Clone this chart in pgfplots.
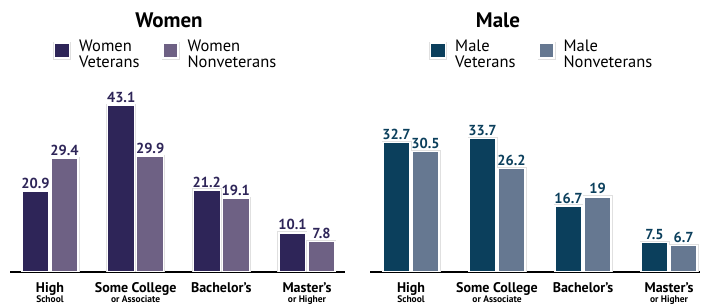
\documentclass[border=0pt]{standalone}
\usepackage{pgfplots}
\pgfplotsset{compat=1.18}
\usepackage{fontspec}
\setmainfont{PT Sans}
\definecolor{wvet}{HTML}{2E2558}
\definecolor{wnon}{HTML}{6E6184}
\definecolor{mvet}{HTML}{0B3F5C}
\definecolor{mnon}{HTML}{667891}
\newcommand{\legtxt}[2]{\fontsize{16.5}{14.5}\selectfont\begin{tabular}{@{}l@{}}#1\\#2\end{tabular}}
\pgfplotsset{
  mybar/.style={
    ybar, bar width=27pt, scale only axis, width=335pt, height=172pt,
    ymin=0, axis y line=none, axis x line*=bottom,
    x axis line style={line width=1.6pt, -},
    xtick=data, major tick length=0pt,
    xticklabels={{\fontsize{14}{14}\selectfont\bfseries High\\[-2pt]\fontsize{9.5}{9.5}\selectfont\bfseries School},
                 {\fontsize{14}{14}\selectfont\bfseries Some College\\[-2pt]\fontsize{9.5}{9.5}\selectfont\bfseries or Associate},
                 {\fontsize{14}{14}\selectfont\bfseries Bachelor's\\[-2pt]\fontsize{9.5}{9.5}\selectfont\phantom{g}},
                 {\fontsize{14}{14}\selectfont\bfseries Master's\\[-2pt]\fontsize{9.5}{9.5}\selectfont\bfseries or Higher}},
    xticklabel style={align=center, inner sep=0pt, yshift=-10pt, anchor=north},
    nodes near coords={\pgfmathprintnumber[assume math mode=true]{\pgfplotspointmeta}},
    nodes near coords style={font=\fontsize{14.5}{14}\selectfont\bfseries, inner sep=2pt},
    every axis plot/.append style={draw=white, line width=1.4pt,
      preaction={draw=black!12, line width=3pt}},
    legend columns=2,
    legend style={draw=none, fill=none, anchor=north west,
      cells={anchor=west},
      /tikz/every odd column/.append style={column sep=6pt},
      /tikz/every even column/.append style={column sep=20pt}},
    legend image code/.code={
      \draw[black!12, line width=3pt, fill] (0pt,-7pt) rectangle (15pt,8pt);
      \draw[#1, draw=white, line width=1.4pt] (0pt,-7pt) rectangle (15pt,8pt);},
  }
}
\begin{document}
\begin{tikzpicture}[x=1pt,y=1pt]
\path[use as bounding box] (0,0) rectangle (704,305);
\begin{axis}[mybar, at={(10pt,33pt)}, anchor=south west,
  xmin=-0.467, xmax=3.444, ymax=44.4,
  nodes near coords style={text=wvet},
  legend style={at={(40pt,236pt)}, anchor=north west}]
\addplot[fill=wvet, bar shift=-14.5pt] coordinates {(0,20.9) (1,43.1) (2,21.2) (3,10.1)};
\addplot[fill=wnon, bar shift=14.5pt] coordinates {(0,29.4) (1,29.9) (2,19.1) (3,7.8)};
\legend{\legtxt{Women}{Veterans},\legtxt{Women}{Nonveterans}}
\end{axis}
\begin{axis}[mybar, at={(370pt,33pt)}, anchor=south west, width=330pt,
  xmin=-0.477, xmax=3.36, ymax=43.5,
  nodes near coords style={text=mvet},
  legend style={at={(56pt,236pt)}, anchor=north west}]
\addplot[fill=mvet, bar shift=-14.5pt] coordinates {(0,32.7) (1,33.7) (2,16.7) (3,7.5)};
\addplot[fill=mnon, bar shift=14.5pt] coordinates {(0,30.5) (1,26.2) (2,19) (3,6.7)};
\legend{\legtxt{Male}{Veterans},\legtxt{Male}{Nonveterans}}
\end{axis}
\node[font=\fontsize{21}{21}\selectfont\bfseries, anchor=base] at (169,277) {Women};
\node[font=\fontsize{21}{21}\selectfont\bfseries, anchor=base] at (498,277) {Male};
\end{tikzpicture}
\end{document}
